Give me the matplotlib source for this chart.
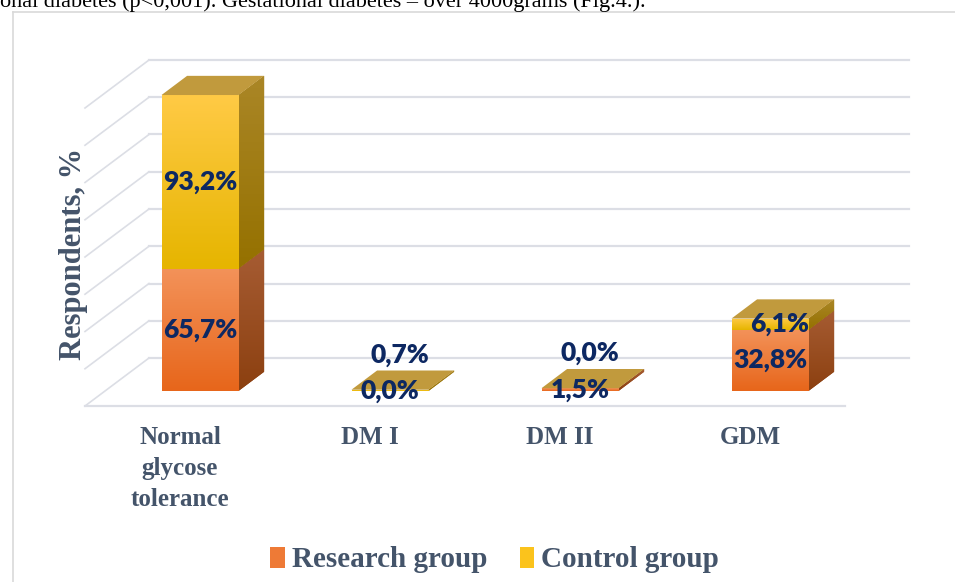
import numpy as np
import matplotlib

matplotlib.use("Agg")
import matplotlib.pyplot as plt
from matplotlib.patches import Polygon, Patch
from matplotlib.colors import LinearSegmentedColormap

# data
categories = ["Normal\nglycose\ntolerance", "DM I", "DM II", "GDM"]
research = [65.7, 0.0, 1.5, 32.8]
control = [93.2, 0.7, 0.0, 6.1]
series_names = ["Research group", "Control group"]
grid_values = list(range(0, 161, 20))

# colours
FACE = {"research": ("#F39259", "#E7661B"), "control": ("#FFCA45", "#E6B500")}
SIDE = {"research": ("#A65C33", "#8C4010"), "control": ("#AA8626", "#957100")}
TOP_COLOR = "#C19A3D"
GRID = "#DCDEE5"
LABEL_BLUE = "#0D2862"
SLATE = "#44546A"

# fake 3D geometry (in category / value units)
PX_CAT, PX_VAL = 190.0, 1.8625
DEPTH = np.array([64 / PX_CAT, 48 / PX_VAL])
FRONT = -0.3125 * DEPTH
BACK = 0.6875 * DEPTH
BAR_D = 0.40 * DEPTH
BAR_W = 77 / PX_CAT


def gradient(ax, patch, c_top, c_bot, extent, z):
    cmap = LinearSegmentedColormap.from_list("g", [c_bot, c_top])
    grad = np.linspace(0, 1, 64).reshape(-1, 1)
    im = ax.imshow(grad, extent=extent, origin="lower", aspect="auto", cmap=cmap, zorder=z)
    im.set_clip_path(patch)


fig = plt.figure(figsize=(9.55, 5.82), dpi=100)
ax = fig.add_axes([0, 0, 1, 1])
ax.axis("off")
xlim = (-200 / PX_CAT, 755 / PX_CAT)
ylim = (-(582 - 391) / PX_VAL, 391 / PX_VAL)

# walls: back gridlines, left wall diagonals, front floor edge
x_left, x_right = -0.5, 3.5
for v in grid_values:
    ax.plot([x_left + BACK[0], x_right + BACK[0]], [v + BACK[1]] * 2, color=GRID, lw=1.6, zorder=1)
    ax.plot([x_left + FRONT[0], x_left + BACK[0]], [v + FRONT[1], v + BACK[1]], color=GRID, lw=1.2, zorder=1)
ax.plot([x_left + FRONT[0], x_right + FRONT[0]], [FRONT[1]] * 2, color=GRID, lw=1.6, zorder=1)

x = np.arange(len(categories))
bars_r = ax.bar(x, research, BAR_W, color=FACE["research"][1], linewidth=0, zorder=3)
bars_c = ax.bar(x, control, BAR_W, bottom=research, color=FACE["control"][1], linewidth=0, zorder=3)

for key, bars, bottoms in (("research", bars_r, [0] * len(x)), ("control", bars_c, research)):
    for rect, b in zip(bars, bottoms):
        h = rect.get_height()
        if h <= 0:
            continue
        x0, w = rect.get_x(), rect.get_width()
        gradient(ax, rect, FACE[key][0], FACE[key][1], (x0, x0 + w, b, b + h), 3.5)
        x1 = x0 + w
        side = Polygon([(x1, b), (x1 + BAR_D[0], b + BAR_D[1]), (x1 + BAR_D[0], b + h + BAR_D[1]), (x1, b + h)],
                       closed=True, facecolor=SIDE[key][1], edgecolor="none", zorder=3)
        ax.add_patch(side)
        gradient(ax, side, SIDE[key][0], SIDE[key][1], (x1, x1 + BAR_D[0], b, b + h + BAR_D[1]), 3.5)

# top faces
for xi, r, c in zip(x, research, control):
    top = r + c
    xa, xb = xi - BAR_W / 2, xi + BAR_W / 2
    ax.add_patch(Polygon([(xa, top), (xa + BAR_D[0], top + BAR_D[1]), (xb + BAR_D[0], top + BAR_D[1]), (xb, top)],
                         closed=True, facecolor=TOP_COLOR, edgecolor="none", zorder=4))

# data labels
for xi, r, c in zip(x, research, control):
    y_r = r / 2
    y_c = r + c / 2
    dx = 0.0
    if y_c < y_r + 19.5:
        y_c = y_r + 19.5
        dx = 0.05
    for val, yy, xo in ((r, y_r, 0.0), (c, y_c, dx)):
        ax.text(xi + xo, yy, f"{val:.1f}%".replace(".", ","), ha="center", va="center",
                fontsize=19, fontweight="heavy", family="Lato", color=LABEL_BLUE, zorder=6)

# category labels on the front floor edge
for xi, cat in zip(x, categories):
    ax.text(xi + FRONT[0], FRONT[1] - 11, cat, ha="center", va="top", fontsize=18, fontweight="bold",
            family="Liberation Serif", color=SLATE, linespacing=1.42)

ax.set_xlim(*xlim)
ax.set_ylim(*ylim)

fig.text(74 / 955, 1 - 254 / 582, "Respondents, %", rotation=90, ha="center", va="center",
         fontsize=22, fontweight="bold", family="Liberation Serif", color=SLATE)

handles = [Patch(facecolor="#EE7A36", edgecolor="none"), Patch(facecolor="#FBC31C", edgecolor="none")]
leg = fig.legend(handles, series_names, loc="center", bbox_to_anchor=(0.518, 0.038), ncol=2, frameon=False,
                 handlelength=0.5, handleheight=0.75, handletextpad=0.25, columnspacing=1.1,
                 prop={"family": "Liberation Serif", "weight": "bold", "size": 21})
for t in leg.get_texts():
    t.set_color(SLATE)

# chart frame and the cut-off page text above it
fig.add_artist(plt.Line2D([13 / 955, 13 / 955], [0, 1 - 12 / 582], color="#D9D9D9", lw=1.2))
fig.add_artist(plt.Line2D([13 / 955, 1], [1 - 12 / 582] * 2, color="#D9D9D9", lw=1.2))
fig.text(0, 1 - 7 / 582, "onal diabetes (p<0,001). Gestational diabetes \u2013 over 4000grams (Fig.4.).",
         ha="left", va="baseline", fontsize=16, family="Liberation Serif", color="black")

fig.savefig("out.png", dpi=100)
